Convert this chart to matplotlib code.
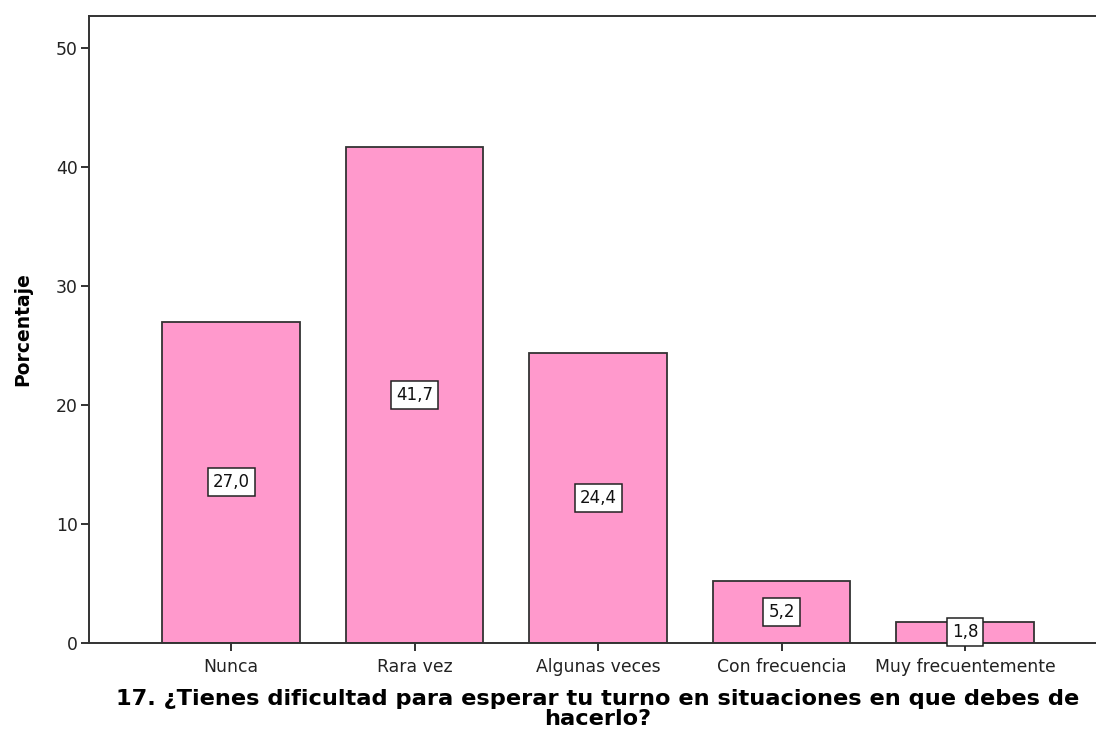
import matplotlib
matplotlib.use("Agg")
import matplotlib.pyplot as plt

categories = ["Nunca", "Rara vez", "Algunas veces", "Con frecuencia", "Muy frecuentemente"]
percentages = [27.0, 41.7, 24.4, 5.2, 1.8]
y_ticks = [0, 10, 20, 30, 40, 50]
x_title = "17. ¿Tienes dificultad para esperar tu turno en situaciones en que debes de\nhacerlo?"
y_title = "Porcentaje"

plt.rcParams["font.family"] = ["DejaVu Sans"]

fig = plt.figure(figsize=(10.96, 7.31), dpi=100)
ax = fig.add_axes([0.0812, 0.1204, 0.929, 0.8576])

xs = list(range(len(categories)))
ax.bar(xs, percentages, width=0.75, color="#FF99CC",
       edgecolor="#333333", linewidth=1.3, zorder=2)

for x, v in zip(xs, percentages):
    ax.text(x, v / 2, f"{v:.1f}".replace(".", ","), ha="center", va="center",
            fontsize=12, color="#111111", zorder=3,
            bbox=dict(boxstyle="square,pad=0.3", facecolor="white",
                      edgecolor="#222222", linewidth=1.1))

ax.set_xlim(-0.775, 4.775)
ax.set_ylim(0, 52.7)
ax.set_yticks(y_ticks)
ax.set_xticks(xs)
ax.set_xticklabels(categories)
ax.tick_params(axis="both", labelsize=12.4, colors="#222222", width=1.3,
               length=6, direction="out")
ax.tick_params(axis="x", pad=5)
ax.tick_params(axis="y", pad=2)

for side in ("left", "bottom", "top"):
    ax.spines[side].set_linewidth(1.4)
    ax.spines[side].set_color("#333333")
ax.spines["right"].set_visible(False)

ax.set_ylabel(y_title, fontsize=13.5, fontweight="bold")
ax.yaxis.set_label_coords(-0.056, 0.50)
ax.set_xlabel(x_title, fontsize=16.2, fontweight="bold", linespacing=1.02)
ax.xaxis.set_label_coords(0.50, -0.073)
ax.xaxis.label.set_va("top")

fig.savefig("out.png", dpi=100)
